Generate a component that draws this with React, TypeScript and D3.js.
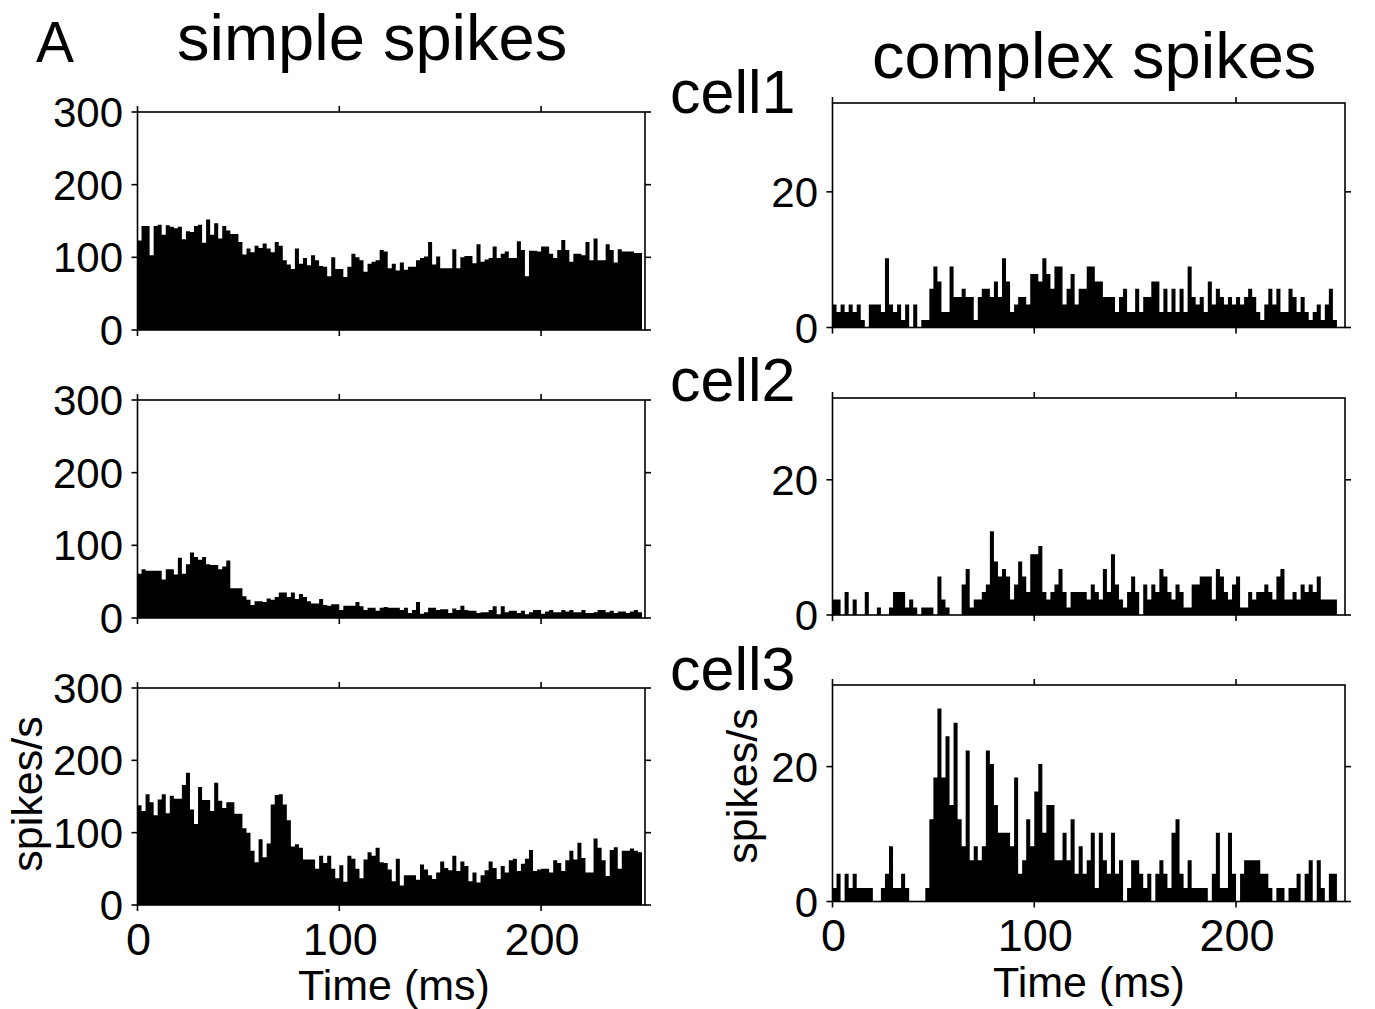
import React from 'react';
import * as d3 from 'd3';

// ---- data (spikes/s per 2 ms bin, 0–250 ms) ----
const BIN_MS = 2;

const simpleCell1 = [123,143,143,103,143,145,131,144,142,140,142,125,136,135,143,145,120,152,131,147,126,143,137,132,132,121,104,112,107,116,113,119,112,107,121,116,96,90,84,112,91,99,89,103,96,88,87,74,100,84,84,73,87,105,100,96,80,91,94,96,110,108,85,91,82,93,83,87,87,96,99,101,121,90,101,85,85,85,111,85,100,102,102,92,118,94,97,99,115,99,105,108,99,99,122,110,74,109,109,108,115,115,105,99,110,124,110,94,105,105,103,121,96,126,96,96,118,110,93,111,108,108,108,106,106];

const simpleCell2 = [61,67,65,65,65,65,53,67,67,60,83,61,74,90,84,80,84,74,73,73,67,71,79,41,41,41,30,25,18,23,23,22,27,25,29,35,35,29,35,26,33,29,23,20,20,26,18,17,19,19,11,17,17,17,22,16,11,14,14,10,14,15,14,14,14,11,14,7,11,22,6,8,14,14,11,12,12,7,13,11,17,11,10,10,7,8,8,11,16,5,16,8,10,10,7,10,5,8,11,11,6,9,11,8,8,11,9,11,8,8,11,7,7,8,11,11,8,10,7,9,9,7,9,11,8];

const simpleCell3 = [138,130,153,142,124,146,153,127,151,147,147,166,183,132,112,163,145,145,130,169,144,134,142,142,126,126,106,100,75,59,91,66,85,139,152,153,139,117,81,84,79,63,63,63,50,68,58,68,50,37,55,32,68,64,50,37,63,73,68,79,59,58,49,33,64,27,41,41,41,35,56,49,41,36,45,60,51,48,68,47,60,54,33,45,31,41,48,60,51,36,54,45,62,64,47,57,64,76,47,49,50,50,45,62,58,47,62,75,63,86,65,45,45,92,79,62,40,76,80,50,75,75,78,75,73];

const complexCell1 = [3.4,2.3,3.4,2.3,3.4,2.3,3.4,1.1,0,3.4,3.4,3.4,2.3,10.2,3.4,2.3,3.4,1.1,3.4,0,3.4,0,1.1,1.1,5.7,9.0,6.8,2.3,2.3,9.0,4.5,4.5,5.7,4.5,4.5,1.1,4.5,5.7,5.7,4.5,6.8,4.5,10.2,6.8,2.3,3.4,4.5,4.5,3.4,7.9,7.9,6.8,10.2,7.9,5.7,9.0,9.0,3.4,5.7,7.9,3.4,5.7,5.7,9.0,9.0,6.8,6.8,4.5,4.5,4.5,2.3,4.5,5.7,2.3,2.3,5.7,2.3,4.5,4.5,6.8,6.8,2.3,5.7,2.3,5.7,2.3,5.7,2.3,9.0,4.5,3.4,4.5,2.3,6.8,3.4,5.7,4.5,3.4,4.5,3.4,4.5,3.4,4.5,5.7,4.5,2.3,1.1,3.4,5.7,3.4,5.7,2.3,2.3,5.7,4.5,2.3,4.5,2.3,1.1,2.3,3.4,1.1,3.4,5.7,1.1];

const complexCell2 = [2.3,2.3,0,3.4,0,2.3,0,0,3.4,0,0,1.1,0,0,1.1,3.4,3.4,3.4,1.1,2.3,1.1,0,1.1,1.1,1.1,0,5.7,2.3,1.1,0,0,0,4.5,6.8,1.1,2.3,2.3,3.4,4.5,12.4,7.9,5.7,6.8,5.7,2.3,4.5,7.9,5.7,3.4,9.0,9.0,10.2,3.4,2.3,3.4,4.5,6.8,3.4,1.1,3.4,3.4,3.4,3.4,2.3,4.5,3.4,2.3,6.8,3.4,9.0,4.5,2.3,1.1,3.4,5.7,3.4,0,4.5,2.3,4.5,3.4,6.8,5.7,3.4,2.3,4.5,3.4,1.1,1.1,4.5,4.5,5.7,5.7,5.7,2.3,6.8,5.7,3.4,2.3,4.5,5.7,1.1,1.1,3.4,2.3,3.4,3.4,4.5,3.4,2.3,5.7,6.8,2.3,2.3,3.4,2.3,4.5,3.4,4.5,3.4,5.7,2.3,2.3,2.3,2.3];

const complexCell3 = [2.0,4.1,0,4.1,2.0,4.1,2.0,2.0,2.0,2.0,0,0,2.0,4.1,8.2,2.0,2.0,4.1,2.0,0,0,0,0,2.0,12.2,18.4,28.6,18.4,24.5,14.3,26.5,12.2,8.2,22.4,6.1,8.2,6.1,8.2,22.4,20.4,14.3,10.2,10.2,10.2,8.2,18.4,4.1,6.1,12.2,8.2,16.3,20.4,10.2,14.3,14.3,6.1,6.1,10.2,6.1,12.2,4.1,8.2,4.1,6.1,10.2,2.0,10.2,6.1,4.1,10.2,4.1,6.1,0,2.0,6.1,6.1,4.1,2.0,4.1,0,4.1,6.1,4.1,2.0,10.2,12.2,4.1,2.0,6.1,2.0,2.0,2.0,2.0,0,4.1,10.2,2.0,2.0,10.2,4.1,0,4.1,6.1,6.1,6.1,6.1,4.1,4.1,2.0,0,2.0,2.0,0,2.0,2.0,4.1,0,4.1,6.1,0,6.1,2.0,0,4.1,4.1];

const simpleYTicks = [0, 100, 200, 300];
const complexYTicks = [0, 20];
const xTicks = [0, 100, 200];
const cellNames = ['cell1', 'cell2', 'cell3'];

const FONT = '"Liberation Sans", Arial, Helvetica, sans-serif';

type PanelProps = {
  data: number[];
  left: number;
  right: number;
  top: number;
  bottom: number;
  xMax: number;
  yMax: number;
  yTicks: number[];
  tickFont: number;
  labelRight: number;
  showXLabels: boolean;
  xLabelBaseline: number;
};

function Panel(p: PanelProps) {
  const x = d3.scaleLinear().domain([0, p.xMax]).range([p.left, p.right]);
  const y = d3.scaleLinear().domain([0, p.yMax]).range([p.bottom, p.top]);
  const tl = 6;
  const pts: [number, number][] = p.data.map((v, i) => [i * BIN_MS, v]);
  pts.push([p.data.length * BIN_MS, p.data[p.data.length - 1]]);
  const area = d3
    .area<[number, number]>()
    .x((d) => x(d[0]))
    .y0(y(0))
    .y1((d) => y(d[1]))
    .curve(d3.curveStepAfter);
  return (
    <g>
      <path d={area(pts) || ''} fill="#000" stroke="none" />
      <rect x={p.left} y={p.top} width={p.right - p.left} height={p.bottom - p.top} fill="none" stroke="#000" strokeWidth={1.6} />
      {p.yTicks.map((t) => (
        <g key={'y' + t}>
          <line x1={p.left - tl} x2={p.left} y1={y(t)} y2={y(t)} stroke="#000" strokeWidth={1.6} />
          <line x1={p.right} x2={p.right + tl} y1={y(t)} y2={y(t)} stroke="#000" strokeWidth={1.6} />
          <text x={p.labelRight} y={y(t) + p.tickFont * 0.36} textAnchor="end" fontSize={p.tickFont} fontFamily={FONT} fill="#000">
            {t}
          </text>
        </g>
      ))}
      {xTicks.map((t) => (
        <g key={'x' + t}>
          <line x1={x(t)} x2={x(t)} y1={p.bottom} y2={p.bottom + tl} stroke="#000" strokeWidth={1.6} />
          <line x1={x(t)} x2={x(t)} y1={p.top - tl} y2={p.top} stroke="#000" strokeWidth={1.6} />
          {p.showXLabels && (
            <text x={x(t) + 1} y={p.xLabelBaseline} textAnchor="middle" fontSize={p.tickFont + 3} fontFamily={FONT} fill="#000">
              {t}
            </text>
          )}
        </g>
      ))}
    </g>
  );
}

export default function App() {
  const simpleData = [simpleCell1, simpleCell2, simpleCell3];
  const complexData = [complexCell1, complexCell2, complexCell3];
  const leftFrames = [
    { top: 112, bottom: 330 },
    { top: 400, bottom: 618 },
    { top: 688, bottom: 905 },
  ];
  const rightFrames = [
    { top: 103, bottom: 327.5, yMax: 33.1 },
    { top: 398, bottom: 615, yMax: 32.1 },
    { top: 685, bottom: 901.5, yMax: 32.1 },
  ];
  const cellBaselines = [113, 401, 690];
  return (
    <svg width={1375} height={1009} style={{ position: 'absolute', left: 0, top: 0, background: '#fff' }}>
      <rect x={0} y={0} width={1375} height={1009} fill="#fff" />
      <text x={36} y={62} fontSize={57} fontFamily={FONT}>A</text>
      <text x={177} y={60} fontSize={65} fontFamily={FONT}>simple spikes</text>
      <text x={872} y={78} fontSize={65} fontFamily={FONT}>complex spikes</text>
      {cellNames.map((c, i) => (
        <text key={c} x={670} y={cellBaselines[i]} fontSize={61} fontFamily={FONT}>{c}</text>
      ))}
      {simpleData.map((d, i) => (
        <Panel
          key={'s' + i}
          data={d}
          left={137.5}
          right={645}
          top={leftFrames[i].top}
          bottom={leftFrames[i].bottom}
          xMax={251.5}
          yMax={300}
          yTicks={simpleYTicks}
          tickFont={42}
          labelRight={123}
          showXLabels={i === 2}
          xLabelBaseline={955}
        />
      ))}
      {complexData.map((d, i) => (
        <Panel
          key={'c' + i}
          data={d}
          left={832.5}
          right={1345}
          top={rightFrames[i].top}
          bottom={rightFrames[i].bottom}
          xMax={254}
          yMax={rightFrames[i].yMax}
          yTicks={complexYTicks}
          tickFont={42}
          labelRight={818}
          showXLabels={i === 2}
          xLabelBaseline={951}
        />
      ))}
      <text x={394} y={1000} textAnchor="middle" fontSize={43} fontFamily={FONT}>Time (ms)</text>
      <text x={1089} y={997} textAnchor="middle" fontSize={43} fontFamily={FONT}>Time (ms)</text>
      <text transform="translate(42,794) rotate(-90)" textAnchor="middle" fontSize={43} fontFamily={FONT}>spikes/s</text>
      <text transform="translate(757,786) rotate(-90)" textAnchor="middle" fontSize={43} fontFamily={FONT}>spikes/s</text>
    </svg>
  );
}
